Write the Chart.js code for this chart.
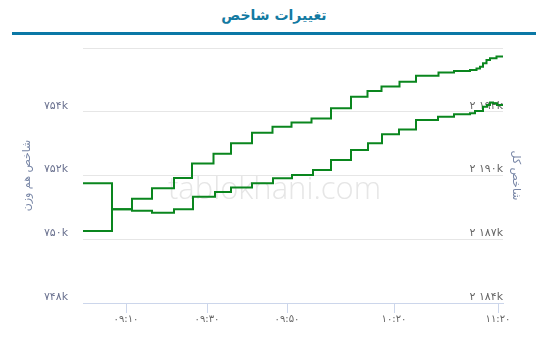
<!DOCTYPE html>
<html>
<head>
<meta charset="utf-8">
<script src="https://cdn.jsdelivr.net/npm/chart.js@4/dist/chart.umd.min.js"></script>
<style>
  body { margin: 0; background: #fff; }
  #wrap { position: relative; width: 549px; height: 347px; }
  #head {
    position: absolute; left: 12px; top: 0; width: 524px; height: 32px;
    border-bottom: 3px solid #0b78a6;
    text-align: center; font: bold 14px "DejaVu Sans", sans-serif; line-height: 31px;
    color: #137aa2; direction: rtl;
  }
  canvas { position: absolute; left: 0; top: 0; }
</style>
</head>
<body>
<div id="wrap">
  <div id="head">تغییرات شاخص</div>
  <canvas id="chart" width="549" height="347"></canvas>
</div>
<script>
// ordinal positions on the time axis (one unit per slot)
const tickPos = [8.6, 24.8, 40.8, 62.2, 83];
const tickLabels = ['09:10', '09:30', '09:50', '10:20', '11:20'];

// شاخص هم وزن (left axis)
const eqPos = [0, 5.8, 9.8, 13.8, 18.2, 21.8, 26.1, 29.6, 33.8, 37.9, 41.7, 45.7, 49.6, 53.6, 56.9, 59.7, 63.3, 66.6, 71.1, 74.2, 77.4, 78.7, 79.4, 80, 80.7, 81.4, 82.7, 84];
const eqValues = [750260, 750940, 751270, 751600, 751920, 752380, 752680, 753010, 753340, 753530, 753660, 753790, 754110, 754470, 754650, 754790, 754940, 755130, 755230, 755280, 755310, 755360, 755410, 755520, 755620, 755680, 755730, 755730];

// شاخص کل (right axis)
const totalPos = [0, 5.8, 9.8, 13.8, 18.2, 22, 26.4, 29.6, 33.8, 38, 41.8, 46, 49.6, 53.6, 57, 59.8, 63.2, 66.6, 71, 74.2, 77.4, 78.4, 80, 80.8, 81.4, 82, 82.8, 84];
const totalValues = [2189630, 2188410, 2188340, 2188250, 2188410, 2189000, 2189220, 2189430, 2189630, 2189870, 2190020, 2190260, 2190730, 2191200, 2191520, 2191940, 2192170, 2192610, 2192770, 2192880, 2192930, 2193040, 2193240, 2193320, 2193440, 2193400, 2193320, 2193320];

const faDigits = '۰۱۲۳۴۵۶۷۸۹';
const toFa = (s) => String(s).replace(/[0-9]/g, (d) => faDigits[d]);
const kLabel = (v) => toFa(Math.round(v / 1000).toString().replace(/\B(?=(\d{3})+(?!\d))/g, ' ')) + 'k';

const lineColor = '#0a861e';

const watermark = {
  id: 'watermark',
  beforeDatasetsDraw(chart) {
    const { ctx } = chart;
    ctx.save();
    ctx.font = '300 31px "Open Sans", sans-serif';
    ctx.fillStyle = '#e6e6e6';
    ctx.textAlign = 'center';
    ctx.textBaseline = 'alphabetic';
    ctx.fillText('tablokhani.com', 274.5, 199);
    ctx.restore();
  }
};

const ctx = document.getElementById('chart').getContext('2d');
new Chart(ctx, {
  type: 'line',
  data: {
    datasets: [
      {
        label: 'شاخص هم وزن',
        data: eqPos.map((p, i) => ({ x: p, y: eqValues[i] })),
        yAxisID: 'yEq',
        borderColor: lineColor,
        borderWidth: 2,
        pointRadius: 0,
        stepped: true,
      },
      {
        label: 'شاخص کل',
        data: totalPos.map((p, i) => ({ x: p, y: totalValues[i] })),
        yAxisID: 'yTotal',
        borderColor: lineColor,
        borderWidth: 2,
        pointRadius: 0,
        stepped: true,
      },
    ],
  },
  options: {
    responsive: false,
    animation: false,
    layout: { padding: { top: 48, bottom: 10, left: 0, right: 0 } },
    plugins: { legend: { display: false }, tooltip: { enabled: false } },
    scales: {
      x: {
        type: 'linear',
        min: 0,
        max: 84,
        afterBuildTicks: (scale) => {
          scale.ticks = tickPos.map((v) => ({ value: v }));
        },
        afterFit: (scale) => { scale.height = 34; },
        grid: { drawOnChartArea: false, color: '#ccd6eb', tickLength: 10 },
        border: { color: '#ccd6eb' },
        ticks: {
          autoSkip: false,
          maxRotation: 0,
          padding: 0,
          color: '#666',
          font: { family: 'DejaVu Sans', size: 10 },
          callback: (v) => toFa(tickLabels[tickPos.indexOf(v)] || ''),
        },
      },
      yEq: {
        position: 'left',
        min: 748000,
        max: 756000,
        afterBuildTicks: (scale) => {
          scale.ticks = [748000, 750000, 752000, 754000, 756000].map((v) => ({ value: v }));
        },
        afterFit: (scale) => { scale.width = 83; },
        grid: { color: '#e6e6e6', drawTicks: false },
        border: { display: false },
        ticks: {
          padding: 15,
          labelOffset: -6,
          color: '#6b7290',
          font: { family: 'DejaVu Sans', size: 11 },
          callback: (v) => (v === 756000 ? '' : kLabel(v)),
        },
        title: {
          display: true,
          text: 'شاخص هم وزن',
          color: '#7886a6',
          font: { family: 'DejaVu Sans', size: 11 },
          padding: { top: 21, bottom: 0 },
        },
      },
      yTotal: {
        position: 'right',
        min: 2184000,
        max: 2196000,
        afterBuildTicks: (scale) => {
          scale.ticks = [2184000, 2187000, 2190000, 2193000, 2196000].map((v) => ({ value: v }));
        },
        afterFit: (scale) => { scale.width = 46; },
        grid: { display: false },
        border: { display: false },
        ticks: {
          mirror: true,
          padding: 0,
          labelOffset: -6,
          color: '#666',
          font: { family: 'DejaVu Sans', size: 11 },
          callback: (v) => (v === 2196000 ? '' : kLabel(v)),
        },
        title: {
          display: true,
          text: 'شاخص کل',
          color: '#7886a6',
          font: { family: 'DejaVu Sans', size: 11 },
          padding: { top: 27, bottom: 0 },
        },
      },
    },
  },
  plugins: [watermark],
});
</script>
</body>
</html>
